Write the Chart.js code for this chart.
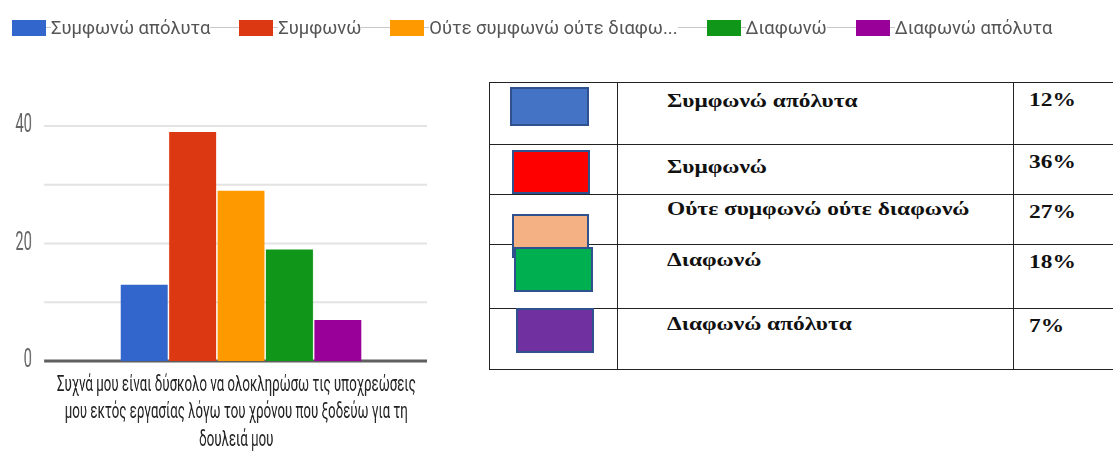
<!DOCTYPE html>
<html>
<head>
<meta charset="utf-8">
<script src="https://cdn.jsdelivr.net/npm/chart.js@4.4.1/dist/chart.umd.min.js"></script>
<style>
  html, body { margin: 0; padding: 0; background: #fff; overflow: hidden; }
  #page { position: relative; width: 1113px; height: 452px; overflow: hidden; }
  #chartBox { position: absolute; left: 0; top: 0; width: 780px; height: 452px; transform-origin: 0 0; transform: scaleX(0.59); }
  #legend { position: absolute; left: 12px; top: 19px; height: 17px; display: flex; align-items: center; font: 18.4px Roboto, "Liberation Sans", sans-serif; color: #555; white-space: nowrap; }
  #legend .sw { width: 34px; height: 16px; flex: none; }
  #legend .dash { height: 1px; background: #c8c8c8; flex: none; }
  #summary { position: absolute; left: 489px; top: 82px; width: 664px; border-collapse: collapse; table-layout: fixed; font: bold 18px "Liberation Serif", "Times New Roman", serif; color: #111; }
  #summary td { border: 1.5px solid #222; vertical-align: top; padding: 0; line-height: 20px; white-space: nowrap; }
  #summary .lbl span, #summary .pct span { display: inline-block; transform-origin: 0 0; transform: scaleX(1.3); }
  .swatch { position: absolute; box-sizing: border-box; border: 2px solid #2f528f; }
</style>
</head>
<body>
<div id="page">
  <div id="chartBox"><canvas id="chart" width="780" height="452"></canvas></div>
  <div id="legend"></div>
  <table id="summary"></table>
</div>
<script>
// survey question (one category, wrapped in three lines)
const categoryLines = [
  'Συχνά μου είναι δύσκολο να ολοκληρώσω τις υποχρεώσεις',
  'μου εκτός εργασίας λόγω του χρόνου που ξοδεύω για τη',
  'δουλειά μου'
];
const seriesNames = ['Συμφωνώ απόλυτα', 'Συμφωνώ', 'Ούτε συμφωνώ ούτε διαφωνώ', 'Διαφωνώ', 'Διαφωνώ απόλυτα'];
const seriesValues = [13, 39, 29, 19, 7];
const seriesColors = ['#3366cc', '#dc3912', '#ff9900', '#109618', '#990099'];
const yTickLabels = [0, 20, 40];

// summary table next to the chart
const tablePercents = ['12%', '36%', '27%', '18%', '7%'];
const swatchColors = ['#4472c4', '#ff0000', '#f4b183', '#00b050', '#7030a0'];

// legend: swatch, short dash, text, connecting line to the next item
const legend = document.getElementById('legend');
seriesNames.forEach((name, i) => {
  if (i > 0) {
    const gap = document.createElement('div');
    gap.className = 'dash';
    gap.style.width = '29px';
    legend.appendChild(gap);
  }
  const sw = document.createElement('div');
  sw.className = 'sw';
  sw.style.background = seriesColors[i];
  legend.appendChild(sw);
  const dash = document.createElement('div');
  dash.className = 'dash';
  dash.style.width = '5px';
  legend.appendChild(dash);
  const txt = document.createElement('span');
  txt.textContent = name.length > 24 ? name.slice(0, 23) + '...' : name;
  legend.appendChild(txt);
});

// table rows
const rowHeights = [62, 50, 50, 64, 61];
const labelTops = [8, 12, 4, 5, 5];
const table = document.getElementById('summary');
const colgroup = document.createElement('colgroup');
[128, 396, 140].forEach(w => {
  const c = document.createElement('col');
  c.style.width = w + 'px';
  colgroup.appendChild(c);
});
table.appendChild(colgroup);
seriesNames.forEach((name, i) => {
  const tr = document.createElement('tr');
  tr.style.height = rowHeights[i] + 'px';
  tr.innerHTML = `<td></td>
    <td class="lbl" style="padding:${labelTops[i]}px 0 0 49px"><span>${name}</span></td>
    <td class="pct" style="padding:7px 0 0 15px"><span>${tablePercents[i]}</span></td>`;
  table.appendChild(tr);
});

// colour shapes in the first column (they overlap a little)
const swatchBoxes = [
  [510, 87, 79, 39],
  [512, 150, 78, 44],
  [512, 214, 77, 44],
  [514, 247, 79, 45],
  [516, 308, 78, 45]
];
swatchBoxes.forEach((b, i) => {
  const d = document.createElement('div');
  d.className = 'swatch';
  d.style.left = b[0] + 'px';
  d.style.top = b[1] + 'px';
  d.style.width = b[2] + 'px';
  d.style.height = b[3] + 'px';
  d.style.background = swatchColors[i];
  document.getElementById('page').appendChild(d);
});

// horizontal gridlines stop a little short of the right edge of the plot
const GRID_RIGHT = 724;
const shortGrid = {
  id: 'shortGrid',
  beforeDatasetsDraw(chart) {
    const { ctx, chartArea, scales: { y } } = chart;
    ctx.save();
    y.ticks.forEach(t => {
      const py = y.getPixelForValue(t.value);
      ctx.strokeStyle = t.value === 0 ? '#5f5f5f' : '#e3e3e3';
      ctx.lineWidth = t.value === 0 ? 3 : 2;
      ctx.beginPath();
      ctx.moveTo(chartArea.left, py);
      ctx.lineTo(GRID_RIGHT, py);
      ctx.stroke();
    });
    ctx.restore();
  }
};

new Chart(document.getElementById('chart'), {
  type: 'bar',
  data: {
    labels: [categoryLines],
    datasets: seriesNames.map((name, i) => ({
      label: name,
      data: [seriesValues[i]],
      backgroundColor: seriesColors[i],
      borderWidth: 0,
      categoryPercentage: 0.615,
      barPercentage: 0.97
    }))
  },
  plugins: [shortGrid],
  options: {
    responsive: false,
    animation: false,
    layout: { padding: { top: 126, right: 38, left: 0, bottom: 0 } },
    plugins: { legend: { display: false }, tooltip: { enabled: false } },
    scales: {
      x: {
        grid: { display: false },
        border: { display: false },
        ticks: {
          color: '#222',
          padding: 2,
          labelOffset: -8,
          font: { family: 'Roboto, "Liberation Sans", sans-serif', size: 22.5, lineHeight: 1.24 }
        },
        afterFit: scale => { scale.height = 91; }
      },
      y: {
        min: 0,
        max: 40,
        border: { display: false },
        grid: { display: false, drawTicks: false },
        ticks: {
          stepSize: 10,
          padding: 21,
          color: '#666',
          font: { family: 'Roboto, "Liberation Sans", sans-serif', size: 25 },
          callback: v => yTickLabels.includes(v) ? v : ''
        },
        afterFit: scale => { scale.width = 75; }
      }
    }
  }
});
</script>
</body>
</html>
